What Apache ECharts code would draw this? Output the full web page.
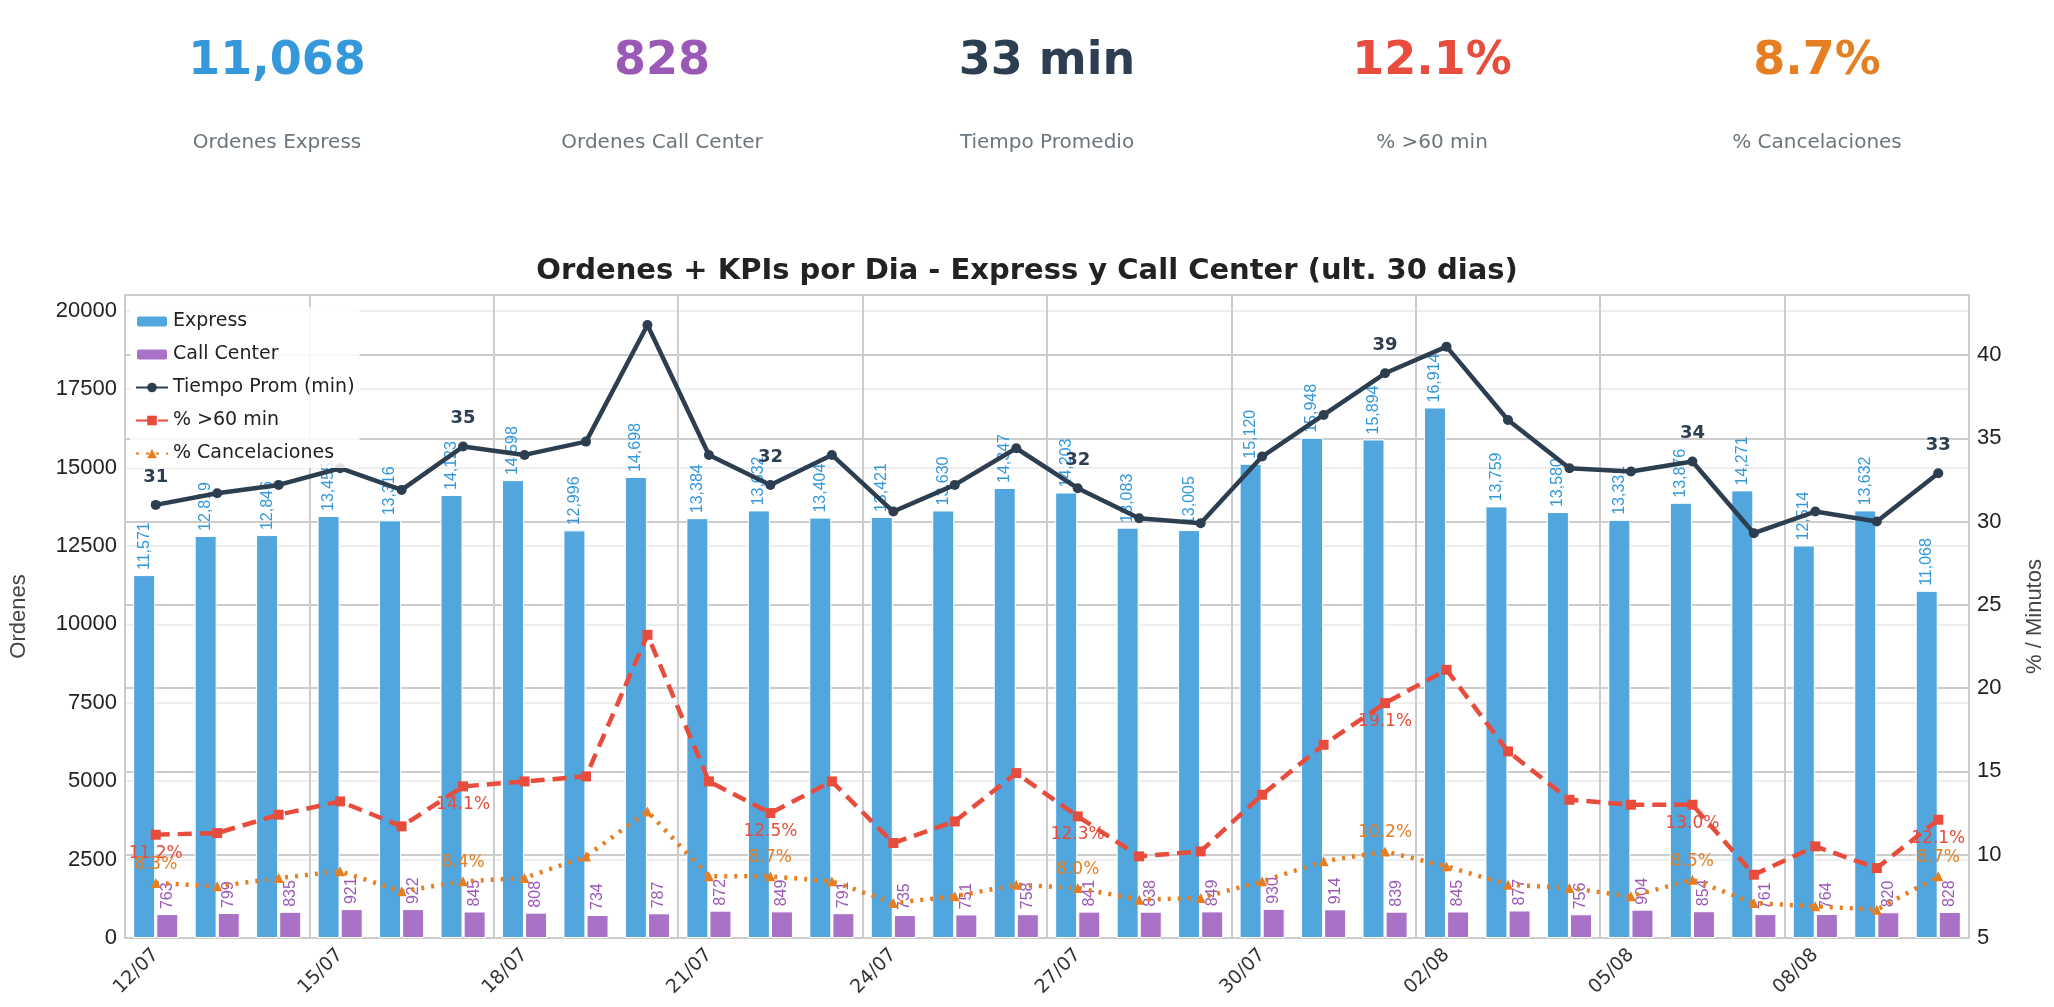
<!DOCTYPE html>
<html><head><meta charset="utf-8">
<script src="https://cdn.jsdelivr.net/npm/echarts@6/dist/echarts.min.js"></script>
<style>html,body{margin:0;background:#fff;font-family:"DejaVu Sans",sans-serif}#c{width:2054px;height:1007px}</style>
</head><body><div id="c"></div>
<script>
const dias=["12/07","13/07","14/07","15/07","16/07","17/07","18/07","19/07","20/07","21/07","22/07","23/07","24/07","25/07","26/07","27/07","28/07","29/07","30/07","31/07","01/08","02/08","03/08","04/08","05/08","06/08","07/08","08/08","09/08","10/08"];
const express=[11571,12819,12846,13455,13316,14123,14598,12996,14698,13384,13632,13404,13421,13630,14347,14203,13083,13005,15120,15948,15894,16914,13759,13580,13331,13876,14271,12514,13632,11068];
const callCenter=[763,799,835,921,922,845,808,734,787,872,849,791,735,751,758,841,838,849,930,914,839,845,877,756,904,854,761,764,820,828];
const tiempo=[31.0,31.7,32.2,33.2,31.9,34.5,34.0,34.8,41.8,34.0,32.2,34.0,30.6,32.2,34.4,32.0,30.2,29.9,33.9,36.4,38.9,40.5,36.1,33.2,33.0,33.6,29.3,30.6,30.0,32.9];
const pct60=[11.2,11.3,12.4,13.2,11.7,14.1,14.4,14.7,23.2,14.4,12.5,14.4,10.7,12.0,14.9,12.3,9.9,10.2,13.6,16.6,19.1,21.1,16.2,13.3,13.0,13.0,8.8,10.5,9.2,12.1];
const pctCanc=[8.3,8.1,8.6,9.0,7.8,8.4,8.6,9.9,12.6,8.7,8.7,8.4,7.1,7.5,8.2,8.0,7.3,7.4,8.4,9.6,10.2,9.3,8.2,8.0,7.5,8.5,7.1,6.9,6.7,8.7];
const kpiVals=["11,068","828","33 min","12.1%","8.7%"];
const kpiLabels=["Ordenes Express","Ordenes Call Center","Tiempo Promedio","% >60 min","% Cancelaciones"];
const kpiColors=["#3498db","#9b59b6","#2c3e50","#e74c3c","#e67e22"];
const labIdx=[0,5,10,15,20,25,29];
const fmt=n=>n.toLocaleString('en-US');
const ch=echarts.init(document.getElementById('c'));
const graphic=[];
kpiVals.forEach((v,i)=>{const x=277+i*385;
graphic.push({type:'text',x:x,y:62,style:{text:v,fill:kpiColors[i],font:'bold 46px "DejaVu Sans"',textAlign:'center',textVerticalAlign:'middle'}});
graphic.push({type:'text',x:x,y:143,style:{text:kpiLabels[i],fill:'#6c757d',font:'20px "DejaVu Sans"',textAlign:'center',textVerticalAlign:'middle'}});});
const sel=(arr,f,color,pos,bold)=>arr.map((v,i)=>labIdx.includes(i)?{value:v,label:{show:true,position:pos,formatter:f(v),color:color,fontSize:bold?18:17,fontWeight:bold?'bold':'normal',fontFamily:'DejaVu Sans'}}:v);
ch.setOption({animation:false,
graphic:graphic,
title:{text:'Ordenes + KPIs por Dia - Express y Call Center (ult. 30 dias)',left:'center',top:252,textStyle:{fontSize:29,fontWeight:'bold',color:'#222',fontFamily:'DejaVu Sans'}},
legend:{left:130,top:307,orient:'vertical',itemGap:14,itemWidth:32,itemHeight:12,textStyle:{fontSize:19,color:'#222',fontFamily:'DejaVu Sans'},backgroundColor:'rgba(255,255,255,0.85)',
data:['Express','Call Center','Tiempo Prom (min)','% >60 min','% Cancelaciones']},
grid:{left:117,right:77,top:295,bottom:69,show:true,borderColor:'#ccc',borderWidth:2},
xAxis:{type:'category',data:dias,axisTick:{show:false,alignWithLabel:true,interval:2},axisLine:{lineStyle:{color:'#ccc',width:2}},
axisLabel:{interval:2,rotate:45,fontSize:19,color:'#333',fontFamily:'DejaVu Sans',margin:14},
splitLine:{show:true,interval:2,lineStyle:{color:'#ccc',width:2}}},
yAxis:[{type:'value',min:0,max:20500,interval:2500,name:'Ordenes',nameLocation:'middle',nameGap:95,nameTextStyle:{fontSize:22,color:'#444'},
axisLabel:{fontSize:22,color:'#222',formatter:v=>v>20000?'':v},axisLine:{show:false},splitLine:{lineStyle:{color:'#eee',width:2}}},
{type:'value',min:5,max:43.6,interval:5,name:'% / Minutos',nameLocation:'middle',nameGap:55,nameTextStyle:{fontSize:22,color:'#444'},
axisLabel:{fontSize:22,color:'#222',formatter:v=>v>40.5?'':v},axisLine:{show:false},splitLine:{lineStyle:{color:'#ccc',width:2}}}],
series:[
{name:'Express',type:'bar',data:express,barWidth:22,barGap:'5%',itemStyle:{color:'#52a6de',borderColor:'#fff',borderWidth:1},
label:{show:true,position:'top',rotate:90,align:'left',verticalAlign:'middle',distance:5,formatter:p=>fmt(p.value),color:'#3498db',fontSize:16}},
{name:'Call Center',type:'bar',data:callCenter,barWidth:22,itemStyle:{color:'#aa72c6',borderColor:'#fff',borderWidth:1},
label:{show:true,position:'top',rotate:90,align:'left',verticalAlign:'middle',distance:5,color:'#9b59b6',fontSize:16}},
{name:'Tiempo Prom (min)',type:'line',yAxisIndex:1,data:sel(tiempo,v=>String(Math.round(v)),'#2c3e50','top',true),
lineStyle:{color:'#2c3e50',width:4.5},itemStyle:{color:'#2c3e50'},symbol:'circle',symbolSize:10,label:{distance:14}},
{name:'% >60 min',type:'line',yAxisIndex:1,data:sel(pct60,v=>v.toFixed(1)+'%','#e74c3c','bottom'),
lineStyle:{color:'#e74c3c',width:4.5,type:[14,8]},itemStyle:{color:'#e74c3c'},symbol:'rect',symbolSize:10},
{name:'% Cancelaciones',type:'line',yAxisIndex:1,data:sel(pctCanc,v=>v.toFixed(1)+'%','#e67e22','top'),
lineStyle:{color:'#e67e22',width:4.5,type:[3,7]},itemStyle:{color:'#e67e22'},symbol:'triangle',symbolSize:10}
]});
</script></body></html>
